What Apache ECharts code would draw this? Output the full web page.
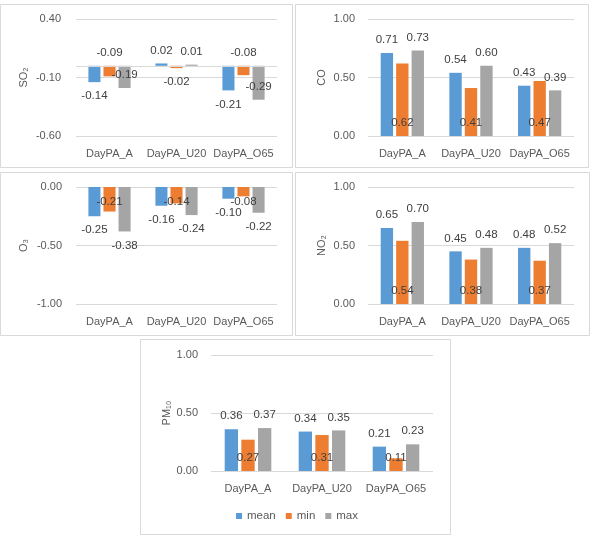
<!DOCTYPE html>
<html>
<head>
<meta charset="utf-8">
<script src="https://cdn.jsdelivr.net/npm/echarts@6.0.0/dist/echarts.min.js"></script>
<style>
  html, body { margin: 0; padding: 0; background: #fff; }
  #chart { width: 594px; height: 538px; }
</style>
</head>
<body>
<div id="chart"></div>
<script>
// categories and series
const categories = ['DayPA_A', 'DayPA_U20', 'DayPA_O65']
const seriesNames = ['mean', 'min', 'max']
const colors = ['#5B9BD5', '#ED7D31', '#A5A5A5']

// values
const so2Mean = [-0.14, 0.02, -0.21]
const so2Min = [-0.09, -0.02, -0.08]
const so2Max = [-0.19, 0.01, -0.29]

const coMean = [0.71, 0.54, 0.43]
const coMin = [0.62, 0.41, 0.47]
const coMax = [0.73, 0.60, 0.39]

const o3Mean = [-0.25, -0.16, -0.10]
const o3Min = [-0.21, -0.14, -0.08]
const o3Max = [-0.38, -0.24, -0.22]

const no2Mean = [0.65, 0.45, 0.48]
const no2Min = [0.54, 0.38, 0.37]
const no2Max = [0.70, 0.48, 0.52]

const pm10Mean = [0.36, 0.34, 0.21]
const pm10Min = [0.27, 0.31, 0.11]
const pm10Max = [0.37, 0.35, 0.23]

// label placement like the excel one
const dist = {top: 7, bottom: 8, insideBottom: 7, insideTop: 9}
const posUp = [['top', 'top', 'top'], ['insideBottom', 'insideBottom', 'insideBottom'], ['top', 'top', 'top']]

const panels = [
  {name: 'SO₂', values: [so2Mean, so2Min, so2Max], min: -0.6, max: 0.4, interval: 0.5, zero: true,
    grid: {left: 76, top: 19, width: 201, height: 117}, box: [0.5, 4.5, 292, 163], gap: 47, margin: 15,
    pos: [['bottom', 'top', 'bottom'], ['top', 'bottom', 'top'], ['insideBottom', 'top', 'insideBottom']]},
  {name: 'CO', values: [coMean, coMin, coMax], min: 0, max: 1, interval: 0.5,
    grid: {left: 368, top: 19, width: 206, height: 117}, box: [295.5, 4.5, 293, 163], gap: 41, margin: 13,
    pos: posUp},
  {name: 'O₃', values: [o3Mean, o3Min, o3Max], min: -1, max: 0, interval: 0.5,
    grid: {left: 76, top: 187, width: 201, height: 117}, box: [0.5, 172.5, 292, 163], gap: 47, margin: 14,
    pos: [['bottom', 'bottom', 'bottom'], ['insideTop', 'insideTop', 'insideTop'], ['bottom', 'bottom', 'bottom']]},
  {name: 'NO₂', values: [no2Mean, no2Min, no2Max], min: 0, max: 1, interval: 0.5,
    grid: {left: 368, top: 187, width: 206, height: 117}, box: [295.5, 172.5, 294, 163], gap: 41, margin: 13,
    pos: posUp},
  {name: 'PM₁₀', values: [pm10Mean, pm10Min, pm10Max], min: 0, max: 1, interval: 0.5,
    grid: {left: 211, top: 355, width: 222, height: 116}, box: [140.5, 339.5, 310, 195], gap: 39, margin: 13,
    pos: posUp}
]

const font = 'Liberation Sans'
let grids = [], xAxes = [], yAxes = [], series = [], boxes = []

panels.forEach((p, k) => {
  grids.push(p.grid)
  boxes.push({
    type: 'rect', silent: true,
    shape: {x: p.box[0], y: p.box[1], width: p.box[2], height: p.box[3]},
    style: {fill: 'none', stroke: '#D9D9D9', lineWidth: 1}
  })
  xAxes.push({
    type: 'category', gridIndex: k, data: categories,
    axisLine: {show: false}, axisTick: {show: false},
    axisLabel: {color: '#595959', fontSize: 11, fontFamily: font, margin: 12, interval: 0}
  })
  yAxes.push({
    type: 'value', gridIndex: k, min: p.min, max: p.max, interval: p.interval,
    name: p.name, nameLocation: 'middle', nameGap: p.gap,
    nameTextStyle: {color: '#595959', fontSize: 11, fontFamily: font},
    axisLine: {show: false}, axisTick: {show: false},
    axisLabel: {color: '#595959', fontSize: 11, fontFamily: font, margin: p.margin,
      formatter: v => v.toFixed(2)},
    splitLine: {lineStyle: {color: '#D9D9D9', width: 1}}
  })
  p.values.forEach((vals, s) => {
    let item = {
      name: seriesNames[s], type: 'bar', xAxisIndex: k, yAxisIndex: k,
      barWidth: '18%', barGap: '25%',
      itemStyle: {color: colors[s]},
      label: {show: true, color: '#404040', fontSize: 11.5, fontFamily: font,
        formatter: d => d.value.toFixed(2)},
      data: vals.map((v, i) => ({value: v, label: {position: p.pos[s][i], distance: dist[p.pos[s][i]]}}))
    }
    if (p.zero && s === 0) {
      item.markLine = {
        silent: true, symbol: 'none', label: {show: false},
        lineStyle: {color: '#D9D9D9', width: 1, type: 'solid'},
        data: [{yAxis: 0}]
      }
    }
    series.push(item)
  })
})

let chart = echarts.init(document.getElementById('chart'))
chart.setOption({
  backgroundColor: '#fff',
  animation: false,
  graphic: boxes,
  legend: {
    data: seriesNames, left: 'center', top: 505,
    icon: 'rect', itemWidth: 6, itemHeight: 6, itemGap: 10,
    textStyle: {color: '#595959', fontSize: 11.5, fontFamily: font}
  },
  grid: grids,
  xAxis: xAxes,
  yAxis: yAxes,
  series: series
})
</script>
</body>
</html>
